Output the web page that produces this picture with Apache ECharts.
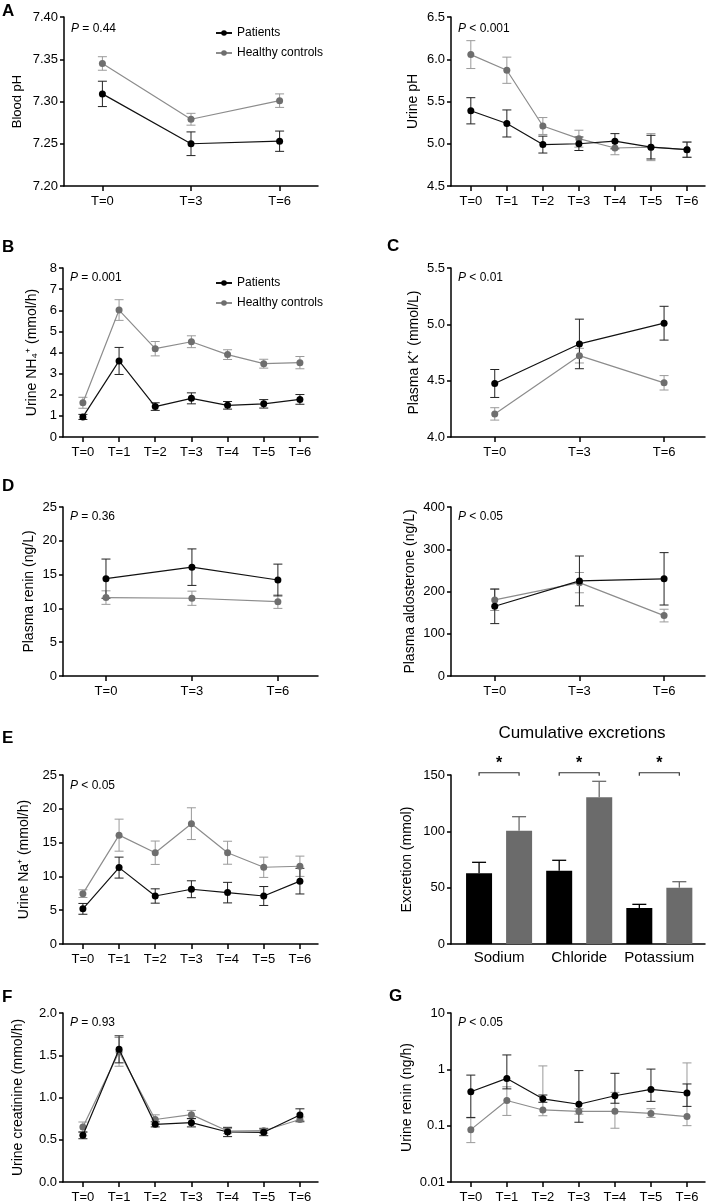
<!DOCTYPE html>
<html lang="en">
<head>
<meta charset="UTF-8">
<title>Acid load test</title>
<style>
  *{margin:0;padding:0;}
  #main{width:708px;height:1203px;background:#fff;}
</style>
</head>
<body>
<div id="main"></div>
<script src="https://cdn.jsdelivr.net/npm/echarts@6/dist/echarts.min.js"></script>
<script>
var FONT = 'Liberation Sans, Arial, sans-serif';

// time points
var tp7 = [0, 1, 2, 3, 4, 5, 6];
var tp3 = [0, 3, 6];

// A - blood pH
var bloodPhPat = [7.309, 7.250, 7.253];
var bloodPhPatSe = [0.015, 0.014, 0.012];
var bloodPhCon = [7.345, 7.279, 7.301];
var bloodPhConSe = [0.008, 0.007, 0.008];

// A - urine pH
var urinePhPat = [5.39, 5.24, 4.99, 5.00, 5.03, 4.96, 4.93];
var urinePhPatSe = [0.155, 0.16, 0.10, 0.08, 0.09, 0.14, 0.09];
var urinePhCon = [6.055, 5.87, 5.21, 5.06, 4.95, 4.96, 4.93];
var urinePhConSe = [0.165, 0.155, 0.10, 0.10, 0.08, 0.16, 0.09];

// B - urine NH4
var nh4Pat = [0.95, 3.6, 1.44, 1.83, 1.5, 1.57, 1.78];
var nh4PatSe = [0.12, 0.64, 0.18, 0.26, 0.18, 0.2, 0.23];
var nh4Con = [1.62, 6.01, 4.18, 4.51, 3.9, 3.47, 3.52];
var nh4ConSe = [0.26, 0.49, 0.34, 0.28, 0.23, 0.21, 0.29];

// C - plasma K
var kPat = [4.475, 4.826, 5.01];
var kPatSe = [0.124, 0.22, 0.15];
var kCon = [4.205, 4.722, 4.481];
var kConSe = [0.055, 0.065, 0.064];

// D - plasma renin / aldosterone
var reninPat = [14.4, 16.1, 14.2];
var reninPatSe = [2.9, 2.7, 2.35];
var reninCon = [11.6, 11.5, 11.0];
var reninConSe = [1.0, 1.05, 1.0];
var aldoPat = [165, 225, 230];
var aldoPatSe = [41, 59, 62];
var aldoCon = [180, 221, 143];
var aldoConSe = [25, 24, 15];

// E - urine Na
var naPat = [5.2, 11.3, 7.1, 8.1, 7.6, 7.1, 9.3];
var naPatSe = [0.8, 1.55, 1.06, 1.25, 1.52, 1.4, 1.9];
var naCon = [7.45, 16.1, 13.5, 17.8, 13.5, 11.35, 11.5];
var naConSe = [0.57, 2.37, 1.73, 2.35, 1.7, 1.5, 1.5];

// E - cumulative excretions
var excCats = ['Sodium', 'Chloride', 'Potassium'];
var excPat = [62.7, 65.1, 32.0];
var excPatSe = [9.8, 9.2, 3.2];
var excCon = [100.6, 130.2, 50.0];
var excConSe = [12.4, 14.2, 5.3];
var excSig = [152, 152, 152];

// F - urine creatinine
var creaPat = [0.552, 1.57, 0.682, 0.702, 0.592, 0.588, 0.793];
var creaPatSe = [0.04, 0.16, 0.03, 0.05, 0.055, 0.04, 0.073];
var creaCon = [0.65, 1.54, 0.74, 0.797, 0.603, 0.607, 0.74];
var creaConSe = [0.06, 0.17, 0.055, 0.05, 0.03, 0.03, 0.03];

// G - urine renin (log axis, error ends read directly)
var uReninPat = [0.40, 0.69, 0.30, 0.24, 0.34, 0.44, 0.38];
var uReninPatLo = [0.14, 0.45, 0.26, 0.115, 0.25, 0.27, 0.22];
var uReninPatHi = [0.79, 1.8, 0.35, 0.95, 0.85, 1.01, 0.55];
var uReninCon = [0.085, 0.28, 0.19, 0.18, 0.18, 0.165, 0.145];
var uReninConLo = [0.05, 0.152, 0.15, 0.16, 0.09, 0.14, 0.10];
var uReninConHi = [0.137, 0.49, 1.15, 0.2, 0.39, 0.2, 1.3];

var BLACK = '#000';
var GREY_LINE = '#8c8c8c';
var GREY_DOT = '#6e6e6e';
var GREY_ERR = '#9a9a9a';
var GREY_BAR = '#6b6b6b';

var grids = [], xAxes = [], yAxes = [], series = [], graphics = [];

function pts(xs, ys) {
	return xs.map(function (x, i) { return [x, ys[i]]; });
}
function errSe(xs, m, se) {
	return xs.map(function (x, i) { return [x, m[i] - se[i], m[i] + se[i]]; });
}
function errLoHi(xs, lo, hi) {
	return xs.map(function (x, i) { return [x, lo[i], hi[i]]; });
}

function errRender(cap) {
	return function (params, api) {
		var x = api.value(0);
		var lo = api.coord([x, api.value(1)]);
		var hi = api.coord([x, api.value(2)]);
		var st = { stroke: api.visual('color'), lineWidth: 1 };
		return {
			type: 'group', children: [
				{ type: 'line', shape: { x1: hi[0], y1: hi[1], x2: lo[0], y2: lo[1] }, style: st },
				{ type: 'line', shape: { x1: hi[0] - cap, y1: hi[1], x2: hi[0] + cap, y2: hi[1] }, style: st },
				{ type: 'line', shape: { x1: lo[0] - cap, y1: lo[1], x2: lo[0] + cap, y2: lo[1] }, style: st }
			]
		};
	};
}

function axisLineStyle() {
	return { onZero: false, lineStyle: { color: '#000', width: 1.5 } };
}

function labelText(x, y, txt, size, bold) {
	graphics.push({
		type: 'text', x: x, y: y,
		style: {
			text: txt, fill: '#000', fontFamily: FONT, fontSize: size,
			fontWeight: bold ? 'bold' : 'normal', verticalAlign: 'middle'
		}
	});
}

function pText(x, y, txt) {
	graphics.push({
		type: 'text', x: x, y: y,
		style: {
			text: '{i|P}' + txt, fill: '#000', fontFamily: FONT, fontSize: 12, verticalAlign: 'middle',
			rich: { i: { fontStyle: 'italic', fontFamily: FONT, fontSize: 12, fill: '#000' } }
		}
	});
}

// line panel with patients / controls and error bars
function linePanel(p) {
	var idx = grids.length;
	grids.push({ left: p.left, top: p.top, width: p.width, height: 169, containLabel: false, outerBoundsMode: 'none' });
	xAxes.push({
		gridIndex: idx, type: 'value', min: p.xMin, max: p.xMax,
		axisLine: axisLineStyle(),
		axisTick: { show: true, customValues: p.xs, length: 5, lineStyle: { color: '#000', width: 1.5 } },
		axisLabel: {
			customValues: p.xs, margin: 9, fontSize: 13, fontFamily: FONT, color: '#000',
			formatter: function (v) { return 'T=' + v; }
		},
		splitLine: { show: false }
	});
	var y = {
		gridIndex: idx, type: p.log ? 'log' : 'value', min: p.yMin, max: p.yMax,
		name: p.name, nameLocation: 'middle', nameGap: p.nameGap, nameRotate: 90,
		nameTextStyle: { fontSize: p.nameSize || 14, fontFamily: FONT, color: '#000' },
		axisLine: axisLineStyle(),
		axisTick: { show: true, length: 4, lineStyle: { color: '#000', width: 1.5 } },
		axisLabel: {
			margin: 6, fontSize: 13, fontFamily: FONT, color: '#000',
			formatter: p.fmt
		},
		splitLine: { show: false }
	};
	if (!p.log) y.interval = p.interval;
	yAxes.push(y);

	series.push({
		type: 'custom', xAxisIndex: idx, yAxisIndex: idx, renderItem: errRender(4.5),
		itemStyle: { color: GREY_ERR }, encode: { x: 0, y: [1, 2] }, data: p.conErr, z: 2
	});
	series.push({
		type: 'custom', xAxisIndex: idx, yAxisIndex: idx, renderItem: errRender(4.5),
		itemStyle: { color: '#222' }, encode: { x: 0, y: [1, 2] }, data: p.patErr, z: 2
	});
	series.push({
		type: 'line', name: 'Healthy controls', xAxisIndex: idx, yAxisIndex: idx,
		data: p.con, symbol: 'circle', symbolSize: 7, z: 3,
		lineStyle: { color: GREY_LINE, width: 1.2 }, itemStyle: { color: GREY_DOT }
	});
	series.push({
		type: 'line', name: 'Patients', xAxisIndex: idx, yAxisIndex: idx,
		data: p.pat, symbol: 'circle', symbolSize: 7, z: 4,
		lineStyle: { color: '#111', width: 1.2 }, itemStyle: { color: BLACK }
	});
}

function fx(n) { return function (v) { return (+v).toFixed(n); }; }

linePanel({ left: 64, top: 17, width: 254, xs: tp3, xMin: -1.3, xMax: 7.3,
	yMin: 7.2, yMax: 7.4, interval: 0.05, fmt: fx(2), name: 'Blood pH', nameGap: 40, nameSize: 13,
	pat: pts(tp3, bloodPhPat), con: pts(tp3, bloodPhCon),
	patErr: errSe(tp3, bloodPhPat, bloodPhPatSe), conErr: errSe(tp3, bloodPhCon, bloodPhConSe) });

linePanel({ left: 451, top: 17, width: 254, xs: tp7, xMin: -0.55, xMax: 6.5,
	yMin: 4.5, yMax: 6.5, interval: 0.5, fmt: fx(1), name: 'Urine pH', nameGap: 31,
	pat: pts(tp7, urinePhPat), con: pts(tp7, urinePhCon),
	patErr: errSe(tp7, urinePhPat, urinePhPatSe), conErr: errSe(tp7, urinePhCon, urinePhConSe) });

linePanel({ left: 63, top: 268, width: 255, xs: tp7, xMin: -0.55, xMax: 6.5,
	yMin: 0, yMax: 8, interval: 1, fmt: fx(0), name: 'Urine NH\u2084\u207A (mmol/h)', nameGap: 24,
	pat: pts(tp7, nh4Pat), con: pts(tp7, nh4Con),
	patErr: errSe(tp7, nh4Pat, nh4PatSe), conErr: errSe(tp7, nh4Con, nh4ConSe) });

linePanel({ left: 451, top: 268, width: 254, xs: tp3, xMin: -1.55, xMax: 7.45,
	yMin: 4.0, yMax: 5.5, interval: 0.5, fmt: fx(1), name: 'Plasma K\u207A (mmol/L)', nameGap: 30,
	pat: pts(tp3, kPat), con: pts(tp3, kCon),
	patErr: errSe(tp3, kPat, kPatSe), conErr: errSe(tp3, kCon, kConSe) });

linePanel({ left: 63, top: 507, width: 255, xs: tp3, xMin: -1.5, xMax: 7.4,
	yMin: 0, yMax: 25, interval: 5, fmt: fx(0), name: 'Plasma renin (ng/L)', nameGap: 27,
	pat: pts(tp3, reninPat), con: pts(tp3, reninCon),
	patErr: errSe(tp3, reninPat, reninPatSe), conErr: errSe(tp3, reninCon, reninConSe) });

linePanel({ left: 451, top: 507, width: 254, xs: tp3, xMin: -1.55, xMax: 7.45,
	yMin: 0, yMax: 400, interval: 100, fmt: fx(0), name: 'Plasma aldosterone (ng/L)', nameGap: 34,
	pat: pts(tp3, aldoPat), con: pts(tp3, aldoCon),
	patErr: errSe(tp3, aldoPat, aldoPatSe), conErr: errSe(tp3, aldoCon, aldoConSe) });

linePanel({ left: 63, top: 775, width: 255, xs: tp7, xMin: -0.55, xMax: 6.5,
	yMin: 0, yMax: 25, interval: 5, fmt: fx(0), name: 'Urine Na\u207A (mmol/h)', nameGap: 32,
	pat: pts(tp7, naPat), con: pts(tp7, naCon),
	patErr: errSe(tp7, naPat, naPatSe), conErr: errSe(tp7, naCon, naConSe) });

linePanel({ left: 63, top: 1013, width: 255, xs: tp7, xMin: -0.55, xMax: 6.5,
	yMin: 0, yMax: 2, interval: 0.5, fmt: fx(1), name: 'Urine creatinine (mmol/h)', nameGap: 38,
	pat: pts(tp7, creaPat), con: pts(tp7, creaCon),
	patErr: errSe(tp7, creaPat, creaPatSe), conErr: errSe(tp7, creaCon, creaConSe) });

linePanel({ left: 451, top: 1013, width: 254, xs: tp7, xMin: -0.55, xMax: 6.5, log: true,
	yMin: 0.01, yMax: 10, name: 'Urine renin (ng/h)', nameGap: 37,
	fmt: function (v) { return v >= 1 ? (+v).toFixed(0) : String(parseFloat((+v).toPrecision(2))); },
	pat: pts(tp7, uReninPat), con: pts(tp7, uReninCon),
	patErr: errLoHi(tp7, uReninPatLo, uReninPatHi), conErr: errLoHi(tp7, uReninConLo, uReninConHi) });

// bar panel (cumulative excretions)
(function () {
	var idx = grids.length;
	var xs = [0, 1, 2];
	grids.push({ left: 451, top: 775, width: 254, height: 169, containLabel: false, outerBoundsMode: 'none' });
	xAxes.push({
		gridIndex: idx, type: 'value', min: -0.6, max: 2.57,
		axisLine: axisLineStyle(),
		axisTick: { show: false, customValues: xs },
		axisLabel: {
			customValues: xs, margin: 6, fontSize: 15, fontFamily: FONT, color: '#000',
			formatter: function (v) { return excCats[Math.round(v)]; }
		},
		splitLine: { show: false }
	});
	yAxes.push({
		gridIndex: idx, type: 'value', min: 0, max: 150, interval: 50,
		name: 'Excretion (mmol)', nameLocation: 'middle', nameGap: 37, nameRotate: 90,
		nameTextStyle: { fontSize: 14, fontFamily: FONT, color: '#000' },
		axisLine: axisLineStyle(),
		axisTick: { show: true, length: 4, lineStyle: { color: '#000', width: 1.5 } },
		axisLabel: { margin: 6, fontSize: 13, fontFamily: FONT, color: '#000' },
		splitLine: { show: false }
	});
	series.push({
		type: 'bar', xAxisIndex: idx, yAxisIndex: idx, barWidth: 26, barGap: '54%',
		itemStyle: { color: BLACK }, data: pts(xs, excPat)
	});
	series.push({
		type: 'bar', xAxisIndex: idx, yAxisIndex: idx, barWidth: 26, barGap: '54%',
		itemStyle: { color: GREY_BAR }, data: pts(xs, excCon)
	});
	function barErr(dx) {
		return function (params, api) {
			var x = api.value(0);
			var a = api.coord([x, api.value(1)]);
			var b = api.coord([x, api.value(2)]);
			var st = { stroke: api.visual('color'), lineWidth: 1.3 };
			return {
				type: 'group', children: [
					{ type: 'line', shape: { x1: a[0] + dx, y1: a[1], x2: b[0] + dx, y2: b[1] }, style: st },
					{ type: 'line', shape: { x1: b[0] + dx - 7, y1: b[1], x2: b[0] + dx + 7, y2: b[1] }, style: st }
				]
			};
		};
	}
	series.push({
		type: 'custom', xAxisIndex: idx, yAxisIndex: idx, renderItem: barErr(-20), z: 1,
		itemStyle: { color: BLACK }, data: errLoHi(xs, excPat, excPat.map(function (v, i) { return v + excPatSe[i]; }))
	});
	series.push({
		type: 'custom', xAxisIndex: idx, yAxisIndex: idx, renderItem: barErr(20), z: 1,
		itemStyle: { color: GREY_BAR }, data: errLoHi(xs, excCon, excCon.map(function (v, i) { return v + excConSe[i]; }))
	});
	series.push({
		type: 'custom', xAxisIndex: idx, yAxisIndex: idx, z: 5, clip: false,
		data: pts(xs, excSig),
		renderItem: function (params, api) {
			var c = api.coord([api.value(0), api.value(1)]);
			return {
				type: 'group', children: [
					{ type: 'polyline', shape: { points: [[c[0] - 20, c[1] + 3], [c[0] - 20, c[1]], [c[0] + 20, c[1]], [c[0] + 20, c[1] + 3]] }, style: { stroke: '#333', lineWidth: 1.2, fill: null } },
					{ type: 'text', x: c[0], y: c[1] - 1, style: { text: '*', fontSize: 16, fontWeight: 'bold', fontFamily: FONT, fill: '#000', align: 'center', verticalAlign: 'bottom' } }
				]
			};
		}
	});
})();

// panel letters, P values, title
labelText(2, 11, 'A', 17, true);
labelText(2, 247, 'B', 17, true);
labelText(387, 246, 'C', 17, true);
labelText(2, 486, 'D', 17, true);
labelText(2, 738, 'E', 17, true);
labelText(2, 997, 'F', 17, true);
labelText(389, 996, 'G', 17, true);

pText(71, 29, ' = 0.44');
pText(458, 29, ' < 0.001');
pText(70, 278, ' = 0.001');
pText(458, 278, ' < 0.01');
pText(70, 517, ' = 0.36');
pText(458, 517, ' < 0.05');
pText(70, 786, ' < 0.05');
pText(70, 1023, ' = 0.93');
pText(458, 1023, ' < 0.05');

graphics.push({
	type: 'text', x: 582, y: 733,
	style: { text: 'Cumulative excretions', fill: '#000', fontFamily: FONT, fontSize: 17, align: 'center', verticalAlign: 'middle' }
});

function legendAt(top) {
	return {
		left: 210, top: top, orient: 'vertical', itemWidth: 16, itemHeight: 7, itemGap: 6,
		selectedMode: false, data: ['Patients', 'Healthy controls'],
		textStyle: { fontSize: 12, fontFamily: FONT, color: '#000', lineHeight: 14 }
	};
}

var chart = echarts.init(document.getElementById('main'));
chart.setOption({
	animation: false,
	backgroundColor: '#fff',
	textStyle: { fontFamily: FONT },
	grid: grids,
	xAxis: xAxes,
	yAxis: yAxes,
	legend: [legendAt(21), legendAt(271)],
	graphic: graphics,
	series: series
});
</script>
</body>
</html>
